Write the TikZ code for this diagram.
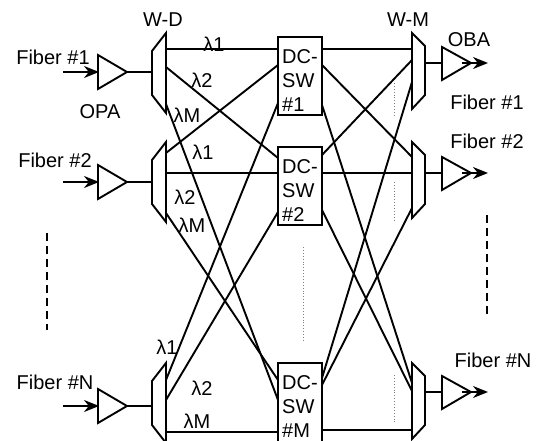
\documentclass[tikz,border=0pt]{standalone}
\usepackage{fontspec}
\setmainfont{Liberation Sans}
\usetikzlibrary{arrows.meta,calc}
\begin{document}
\begin{tikzpicture}[x=1pt,y=-1pt,
  wire/.style={line width=1.9pt},
  dev/.style={line width=1.9pt, line join=miter},
  lab/.style={font=\fontsize{20}{24}\selectfont, inner sep=0pt},
  swlab/.style={font=\fontsize{20}{24}\selectfont, inner sep=0pt, align=left, anchor=north west},
  swbox/.style={draw, line width=1.9pt, minimum width=44pt, minimum height=78pt, inner sep=0pt},
  sig/.style={line width=1.9pt, -{Stealth[length=15pt,width=12pt]}},
  dotsline/.style={gray, dotted, line width=0.9pt},
  dashline/.style={dash pattern=on 8pt off 5pt, line width=1.8pt}]
\useasboundingbox (0,0) rectangle (536,441);
\clip (0,0) rectangle (536,441);

% ---------- W-D demultiplexers, OPA amplifiers ----------
\foreach \n/\T/\Y in {1/33/72, 2/142/182, N/363/406}{
  \draw[dev] (166,\T) -- (166,\T+80) -- (152,\T+62) -- (152,\T+18) -- cycle;
  \draw[dev] (98,\Y-17) -- (127,\Y) -- (98,\Y+17) -- cycle;
  \coordinate (in\n) at (63,\Y);
  \coordinate (opaL\n) at (99,\Y);
  \coordinate (opaR\n) at (127,\Y);
  \coordinate (wdL\n) at (152,\Y);
  \draw[sig] (in\n) -- (opaL\n);
  \draw[wire] (opaR\n) -- (wdL\n);
}

% ---------- W-M multiplexers, OBA amplifiers ----------
\foreach \n/\T/\Y in {1/33/63, 2/142/173, N/363/392}{
  \draw[dev] (412,\T) -- (412,\T+76) -- (425,\T+62) -- (425,\T+13) -- cycle;
  \draw[dev] (442,\Y-16) -- (471,\Y) -- (442,\Y+17) -- cycle;
  \coordinate (wmR\n) at (425,\Y);
  \coordinate (obaL\n) at (442,\Y);
  \coordinate (obaT\n) at (462,\Y);
  \coordinate (out\n) at (488,\Y);
  \draw[wire] (wmR\n) -- (obaL\n);
  \draw[sig] (obaT\n) -- (out\n);
}

% ---------- DC-SW boxes ----------
\node[swbox] (sw1) at (300,76) {};
\node[swbox] (sw2) at (300,186) {};
\node[swbox, minimum height=90pt] (swM) at (300,408) {};
\node[swlab] (t1) at (282,49) {DC-\\SW\\\#1};
\node[swlab] (t2) at (282,159) {DC-\\SW\\\#2};
\node[swlab] (tM) at (282,375) {DC-\\SW\\\#M};

% ---------- ports ----------
\coordinate (d1-1) at (166,49);  \coordinate (d1-2) at (166,67);  \coordinate (d1-M) at (166,104);
\coordinate (d2-1) at (166,153); \coordinate (d2-2) at (166,173); \coordinate (d2-M) at (166,213);
\coordinate (dN-1) at (166,380); \coordinate (dN-2) at (166,400); \coordinate (dN-M) at (166,432);

\coordinate (s1-1) at (278,49);  \coordinate (s1-2) at (278,65);  \coordinate (s1-N) at (278,103);
\coordinate (s2-1) at (278,158); \coordinate (s2-2) at (278,173); \coordinate (s2-N) at (278,212);
\coordinate (sM-1) at (278,400); \coordinate (sM-2) at (278,380); \coordinate (sM-N) at (278,432);

\coordinate (s1-o1) at (322,49);  \coordinate (s1-o2) at (322,65);  \coordinate (s1-oN) at (322,105);
\coordinate (s2-o1) at (322,155); \coordinate (s2-o2) at (322,173); \coordinate (s2-oN) at (322,210);
\coordinate (sM-o1) at (322,378); \coordinate (sM-o2) at (322,385); \coordinate (sM-oN) at (322,430);

\coordinate (m1-1) at (412,49);  \coordinate (m1-2) at (412,60);  \coordinate (m1-M) at (412,82);
\coordinate (m2-1) at (412,157); \coordinate (m2-2) at (412,173); \coordinate (m2-M) at (412,208);
\coordinate (mN-1) at (412,383); \coordinate (mN-2) at (412,391); \coordinate (mN-M) at (412,430);

% ---------- connectors ----------
\foreach \a/\b in {d1-1/s1-1, d1-2/s2-1, d1-M/sM-1,
                   d2-1/s1-2, d2-2/s2-2, d2-M/sM-2,
                   dN-1/s1-N, dN-2/s2-N, dN-M/sM-N,
                   s1-o1/m1-1, s1-o2/m2-1, s1-oN/mN-1,
                   s2-o1/m1-2, s2-o2/m2-2, s2-oN/mN-2,
                   sM-o1/m1-M, sM-o2/m2-M, sM-oN/mN-M}
  \draw[wire] (\a) -- (\b);

% ---------- dotted / dashed continuation marks ----------
\coordinate (dotA) at (303,247); \coordinate (dotB) at (303,340);
\draw[dotsline] (dotA) -- (dotB);
\coordinate (dotC) at (394,83);  \coordinate (dotD) at (394,115);
\draw[dotsline] (dotC) -- (dotD);
\coordinate (dotE) at (394,182); \coordinate (dotF) at (394,220);
\draw[dotsline] (dotE) -- (dotF);
\coordinate (dotG) at (394,375); \coordinate (dotH) at (394,424);
\draw[dotsline] (dotG) -- (dotH);
\coordinate (dashA) at (47,233);  \coordinate (dashB) at (47,330);
\draw[dashline] (dashA) -- (dashB);
\coordinate (dashC) at (487,215); \coordinate (dashD) at (487,317);
\draw[dashline] (dashC) -- (dashD);

% ---------- labels ----------
\node[lab] (lWD) at (163,20) {W-D};
\node[lab] (lWM) at (408,20) {W-M};
\node[lab] (lOBA) at (469,40) {OBA};
\node[lab] (lOPA) at (100,112) {OPA};
\node[lab] (f1l) at (53,57) {Fiber \#1};
\node[lab] (f2l) at (55,160) {Fiber \#2};
\node[lab] (fNl) at (55,382) {Fiber \#N};
\node[lab] (f1r) at (487,102) {Fiber \#1};
\node[lab] (f2r) at (487,141) {Fiber \#2};
\node[lab] (fNr) at (493,360) {Fiber \#N};

\node[lab] (w11) at (214,44) {λ1};
\node[lab] (w12) at (202,80) {λ2};
\node[lab] (w1M) at (187,115) {λM};
\node[lab] (w21) at (203,152) {λ1};
\node[lab] (w22) at (185,197) {λ2};
\node[lab] (w2M) at (192,225) {λM};
\node[lab] (wN1) at (167,347) {λ1};
\node[lab] (wN2) at (202,388) {λ2};
\node[lab] (wNM) at (197,421) {λM};
\end{tikzpicture}
\end{document}
